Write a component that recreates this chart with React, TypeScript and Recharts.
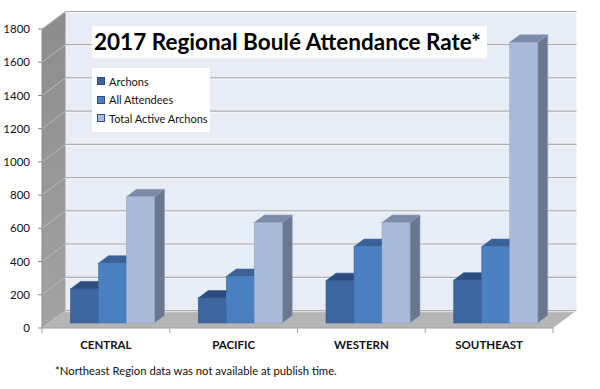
import { BarChart, Bar, XAxis, YAxis, CartesianGrid, ReferenceArea, Legend } from "recharts"

const regions = ["CENTRAL", "PACIFIC", "WESTERN", "SOUTHEAST"]
const seriesNames = ["Archons", "All Attendees", "Total Active Archons"]
const archons = [205, 150, 255, 258]
const allAttendees = [360, 280, 460, 460]
const totalActive = [760, 605, 605, 1690]
const yTicks = [0, 200, 400, 600, 800, 1000, 1200, 1400, 1600, 1800]

const data = regions.map((region, i) => ({
  region,
  archons: archons[i],
  attendees: allAttendees[i],
  total: totalActive[i],
}))

// 3D projection of the Excel-style chart
const DX = 23.5
const DY = 17.5
const BAR_OX = 6.5
const BAR_OY = 5
const BDX = 10
const BDY = 7.5

const font = "Lato, 'Open Sans', sans-serif"

const makeBlock = (front: string, top: string, side: string, edge: string) => (props: any) => {
  const { x, y, width, height } = props
  if (height == null || height <= 0) return <g />
  const fx = x + BAR_OX
  const fy = y - BAR_OY
  const w = width
  const h = height
  return (
    <g>
      <polygon
        points={`${fx},${fy} ${fx + BDX},${fy - BDY} ${fx + w + BDX},${fy - BDY} ${fx + w},${fy}`}
        fill={top}
        stroke={edge}
        strokeWidth={0.6}
      />
      <polygon
        points={`${fx + w},${fy} ${fx + w + BDX},${fy - BDY} ${fx + w + BDX},${fy + h - BDY} ${fx + w},${fy + h}`}
        fill={side}
        stroke={edge}
        strokeWidth={0.6}
      />
      <rect x={fx} y={fy} width={w} height={h} fill={front} stroke={edge} strokeWidth={0.6} />
    </g>
  )
}

const Walls = (props: any) => {
  const { x, y, width, height } = props
  const b = y + height
  const r = x + width
  return (
    <g>
      <defs>
        <linearGradient id="sideWall" x1="0" y1="0" x2="0" y2="1">
          <stop offset="0%" stopColor="#8c8c8c" />
          <stop offset="100%" stopColor="#a3a3a3" />
        </linearGradient>
      </defs>
      <rect x={x + DX} y={y - DY} width={width} height={height} fill="#e8ecf5" />
      <polygon
        points={`${x},${y} ${x + DX},${y - DY} ${x + DX},${b - DY} ${x},${b}`}
        fill="url(#sideWall)"
      />
      <polygon
        points={`${x},${b} ${x + DX},${b - DY} ${r + DX},${b - DY} ${r},${b}`}
        fill="#b5b5b5"
      />
      {regions.map((_, i) => (
        <line
          key={i}
          x1={x + ((i + 1) * width) / regions.length}
          y1={b}
          x2={x + ((i + 1) * width) / regions.length}
          y2={b + 5}
          stroke="#a0a0a0"
        />
      ))}
      <line x1={x} y1={b} x2={x} y2={b + 5} stroke="#a0a0a0" />
    </g>
  )
}

const GridLine = (props: any) => {
  const { x1, y1, x2 } = props
  return (
    <g>
      <line x1={x1} y1={y1} x2={x1 + DX} y2={y1 - DY} stroke="#b8b8b8" strokeWidth={1} />
      <line x1={x1 + DX} y1={y1 - DY} x2={x2 + DX} y2={y1 - DY} stroke="#acacac" strokeWidth={1.2} />
      <line x1={x1 + DX} y1={y1 - DY + 1.2} x2={x2 + DX} y2={y1 - DY + 1.2} stroke="#f8f9fc" strokeWidth={0.8} />
    </g>
  )
}

const RegionTick = (props: any) => {
  const { x, y, payload } = props
  return (
    <text x={x} y={y + 13} textAnchor="middle" fontFamily={font} fontWeight={700} fontSize={11.5} fill="#111">
      {payload.value}
    </text>
  )
}

const LegendBox = (props: any) => {
  const items = [...(props.payload || [])].sort(
    (a: any, b: any) => seriesNames.indexOf(a.value) - seriesNames.indexOf(b.value)
  )
  return (
    <div style={{ background: "#fff", padding: "4px 0 4px 5px", fontFamily: font, fontSize: 11, color: "#111" }}>
      {items.map((p: any) => (
        <div key={p.value} style={{ display: "flex", alignItems: "center", height: 18.5 }}>
          <span
            style={{
              display: "inline-block",
              width: 6,
              height: 6,
              background: p.color,
              border: "0.5px solid #2d4d7e",
              marginRight: 4,
            }}
          />
          {p.value}
        </div>
      ))}
    </div>
  )
}

export default function App() {
  return (
    <div style={{ position: "absolute", left: 0, top: 0, width: 600, height: 389, background: "#fff" }}>
      <BarChart
        width={600}
        height={389}
        data={data}
        margin={{ top: 29, right: 47, left: 0, bottom: 31 }}
        barSize={28}
        barGap={0}
      >
        <ReferenceArea y1={0} y2={1800} shape={Walls} zIndex={-200} ifOverflow="visible" />
        <CartesianGrid vertical={false} horizontal={GridLine} />
        <XAxis
          dataKey="region"
          height={30}
          axisLine={{ stroke: "#a0a0a0" }}
          tickLine={false}
          tick={RegionTick}
        />
        <YAxis
          width={42}
          domain={[0, 1800]}
          ticks={yTicks}
          interval={0}
          axisLine={{ stroke: "#8a8a8a" }}
          tickLine={{ stroke: "#8a8a8a" }}
          tickSize={4}
          tickMargin={8}
          tick={{ fontFamily: font, fontSize: 11.5, fill: "#111" }}
        />
        <Legend
          layout="vertical"
          align="center"
          verticalAlign="middle"
          content={LegendBox}
          wrapperStyle={{ left: 92, top: 68, width: 118, height: 55 }}
        />
        <Bar
          dataKey="archons"
          name={seriesNames[0]}
          fill="#3d66a0"
          isAnimationActive={false}
          shape={makeBlock("#3d66a0", "#2d4d7e", "#2f5282", "#355b92")}
        />
        <Bar
          dataKey="attendees"
          name={seriesNames[1]}
          fill="#4a7fc0"
          isAnimationActive={false}
          shape={makeBlock("#4a7fc0", "#3a6296", "#3b669c", "#4473ae")}
        />
        <Bar
          dataKey="total"
          name={seriesNames[2]}
          fill="#aabbd9"
          isAnimationActive={false}
          shape={makeBlock("#aabbd9", "#7c8aa6", "#6b778c", "#8ea1c6")}
        />
      </BarChart>
      <div
        style={{
          position: "absolute",
          left: 92,
          top: 26,
          width: 395,
          height: 32,
          background: "#fff",
          fontFamily: font,
          fontWeight: 700,
          fontSize: 22.5,
          lineHeight: "32px",
          paddingLeft: 2,
          boxSizing: "border-box",
          color: "#000",
          whiteSpace: "nowrap",
        }}
      >
        2017 Regional Boulé Attendance Rate*
      </div>
      <div
        style={{
          position: "absolute",
          left: 55,
          top: 364,
          fontFamily: font,
          fontSize: 11.3,
          color: "#111",
          whiteSpace: "nowrap",
        }}
      >
        *Northeast Region data was not available at publish time.
      </div>
    </div>
  )
}
